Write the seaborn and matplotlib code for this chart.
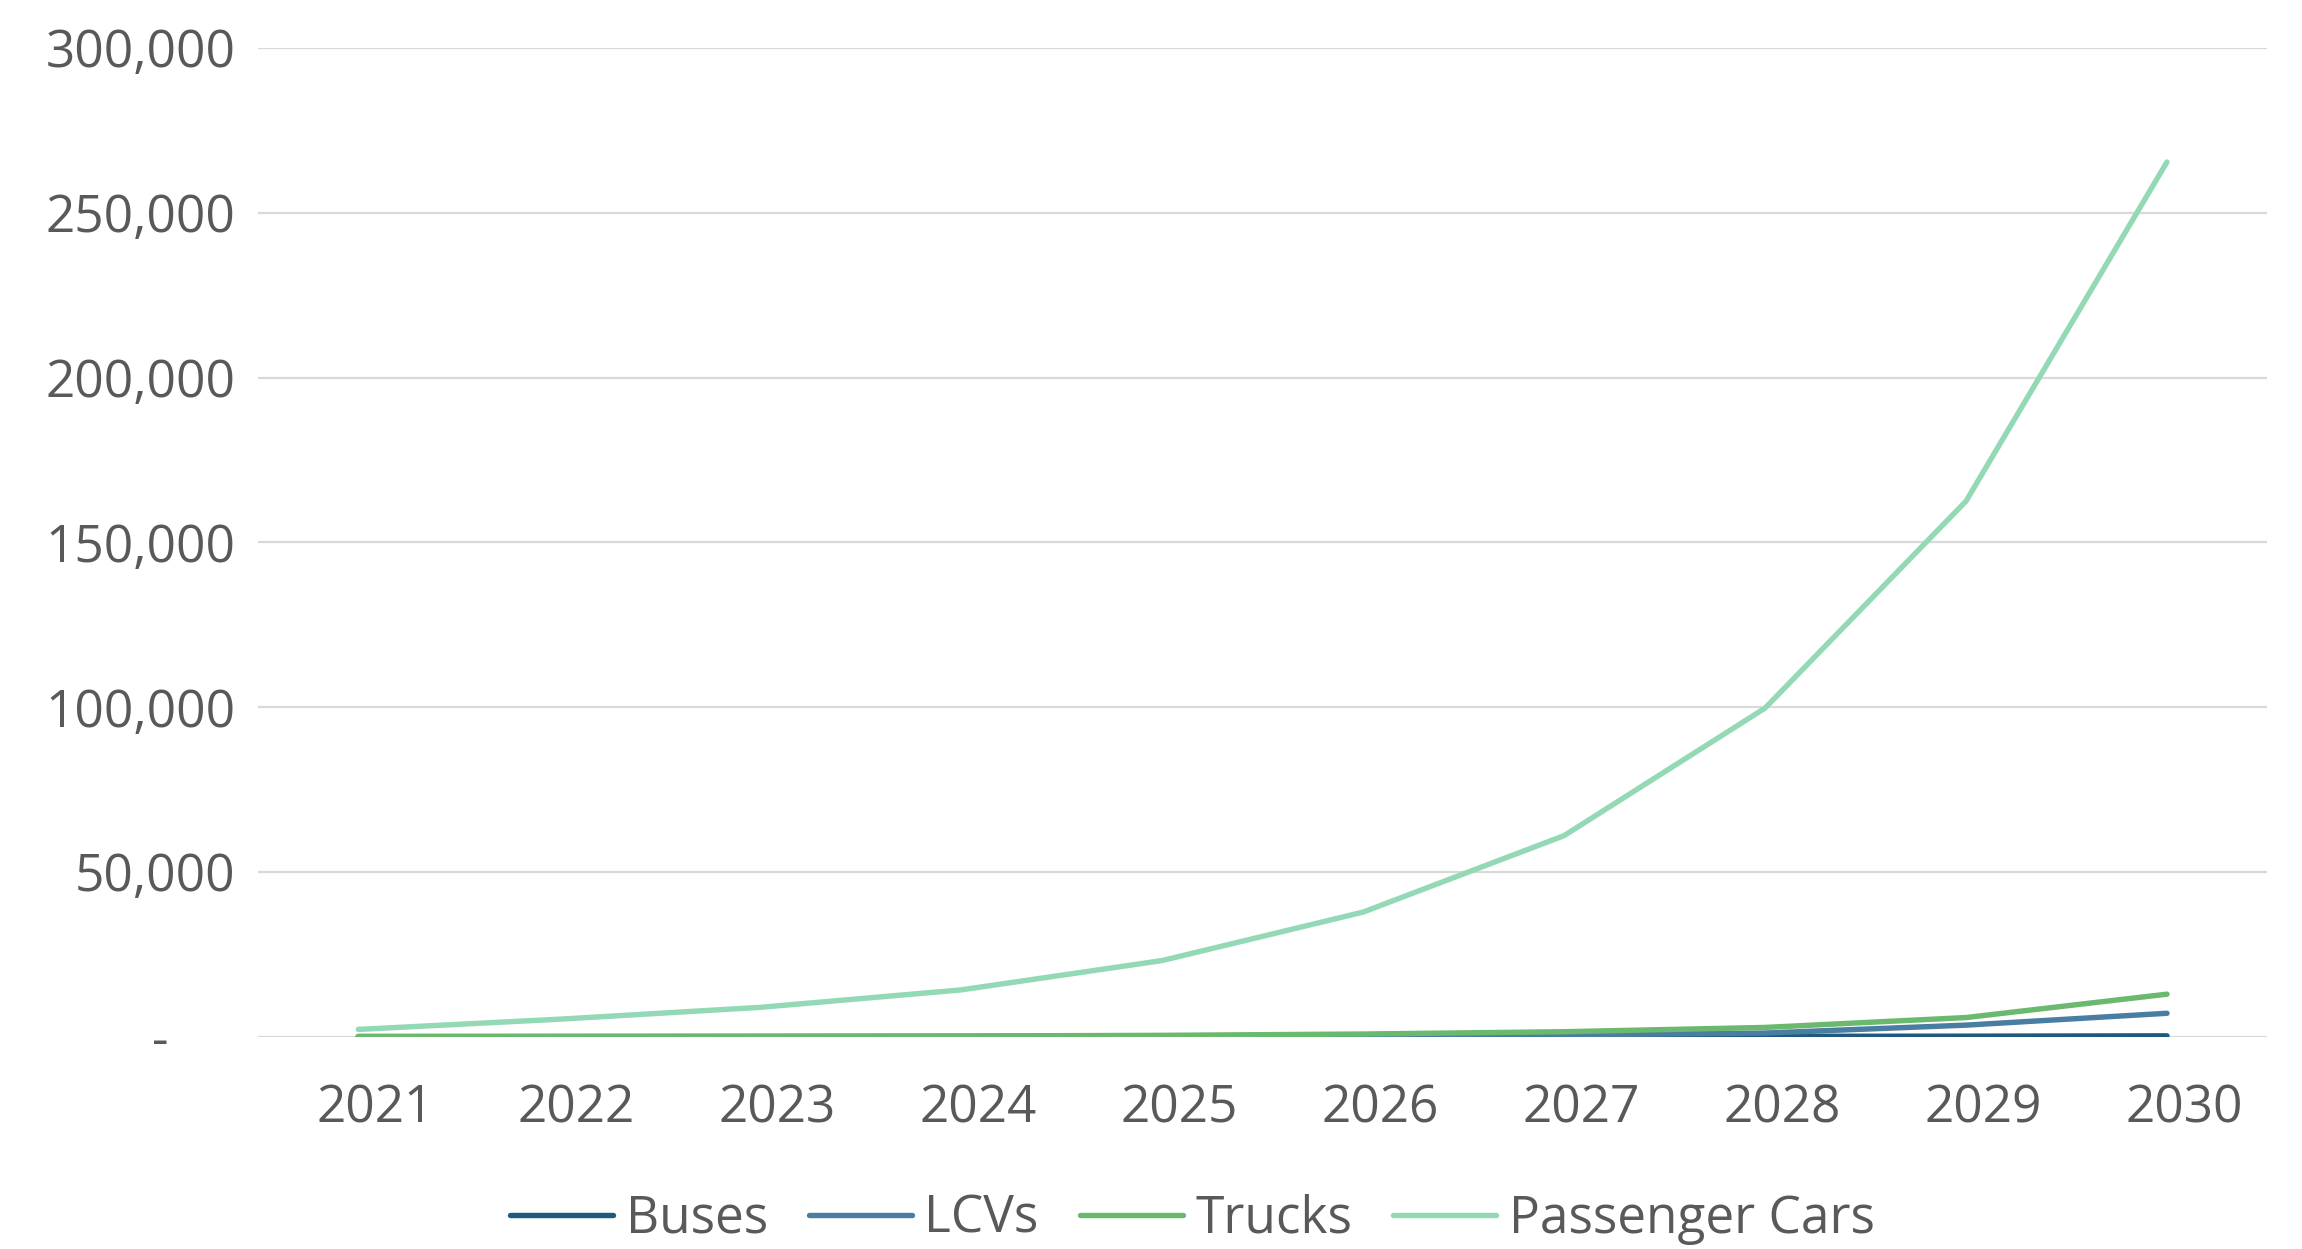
import numpy as np
import pandas as pd
import seaborn as sns
import matplotlib.pyplot as plt
from matplotlib.ticker import FuncFormatter
from matplotlib.transforms import ScaledTranslation

# data
years = [2021, 2022, 2023, 2024, 2025, 2026, 2027, 2028, 2029, 2030]
buses = [0, 0, 0, 10, 20, 40, 60, 100, 150, 250]
lcvs = [20, 40, 70, 120, 200, 350, 550, 1100, 3500, 7100]
trucks = [60, 90, 130, 200, 400, 800, 1500, 2800, 5800, 12900]
passenger_cars = [2200, 5300, 8900, 14200, 23100, 37800, 61000, 99700, 162500, 265400]

series_names = ["Buses", "LCVs", "Trucks", "Passenger Cars"]
colors = ["#1F5A7E", "#4A7DA2", "#6AB96F", "#93D9B6"]

df = pd.DataFrame({"year": years, "Buses": buses, "LCVs": lcvs,
                   "Trucks": trucks, "Passenger Cars": passenger_cars})
long_df = df.melt(id_vars="year", var_name="series", value_name="value")

sns.set_style("white")
plt.rcParams['font.family'] = ['Open Sans', 'DejaVu Sans']
text_col = "#595959"
lw = 3.9

fig = plt.figure(figsize=(23.02, 12.49), dpi=100)
ax = fig.add_axes([0.112, 0.170, 0.873, 0.7916])

sns.lineplot(data=long_df, x="year", y="value", hue="series",
             hue_order=series_names, palette=colors, linewidth=lw,
             ax=ax, legend=False)
for ln in ax.lines:
    ln.set_solid_capstyle("round")

ax.set_xlim(2020.5, 2030.5)
ax.set_ylim(0, 300000)
ax.set_xticks(years)
ax.set_yticks(np.arange(0, 300001, 50000))
ax.yaxis.set_major_formatter(FuncFormatter(lambda v, p: "-     " if v == 0 else f"{int(v):,}"))
ax.grid(axis="y", color="#D9D9D9", linewidth=1.6)
ax.set_axisbelow(True)
for s in ax.spines.values():
    s.set_visible(False)
ax.tick_params(axis="both", length=0, labelsize=37, colors=text_col)
ax.tick_params(axis="y", pad=16)
ax.tick_params(axis="x", pad=34)
ax.set_xlabel("")
ax.set_ylabel("")

# excel draws the year labels a little right of the points
shift = ScaledTranslation(0.17, 0, fig.dpi_scale_trans)
for lab in ax.get_xticklabels():
    lab.set_transform(lab.get_transform() + shift)

handles = [plt.Line2D([], [], color=c, linewidth=lw, solid_capstyle="round") for c in colors]
leg = fig.legend(handles, series_names, loc="center", bbox_to_anchor=(0.518, 0.024),
                 ncol=4, frameon=False, fontsize=37, handlelength=2.0,
                 handletextpad=0.25, columnspacing=0.8)
for t in leg.get_texts():
    t.set_color(text_col)

fig.savefig("out.png", dpi=100)
